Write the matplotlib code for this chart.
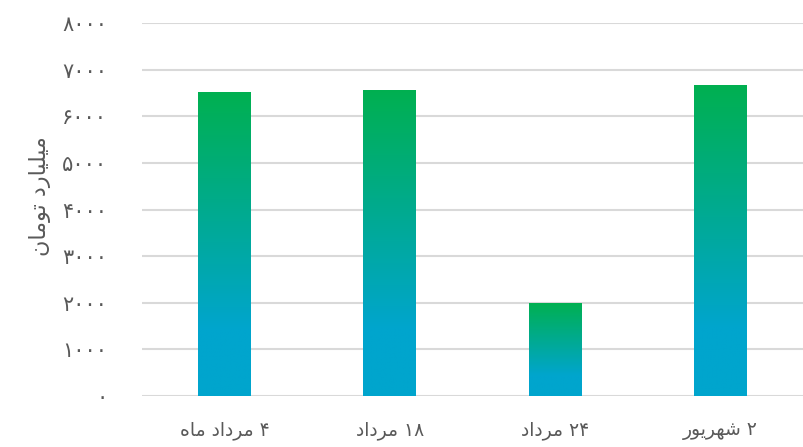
import numpy as np
import matplotlib
matplotlib.use("Agg")
import matplotlib.pyplot as plt

# ---- data ----
# Arabic/Persian text is pre-shaped (presentation forms) and in visual order,
# because matplotlib does no bidi/shaping.
def vis(*cps):
    return "".join(chr(c) if isinstance(c, int) else c for c in cps)

MORDAD = vis(0xFEA9, 0xFE8D, 0xFEA9, 0xFEAE, 0xFEE3)          # مرداد
MAH = vis(0xFEE9, 0xFE8E, 0xFEE3)                              # ماه
SHAHRIVAR = vis(0xFEAD, 0xFEEE, 0xFEF3, 0xFEAE, 0xFEEC, 0xFEB7)  # شهریور
TOMAN = vis(0xFEE5, 0xFE8E, 0xFEE3, 0xFEEE, 0xFE97)            # تومان
MILIARD = vis(0xFEA9, 0xFEAD, 0xFE8E, 0xFEF4, 0xFEE0, 0xFEF4, 0xFEE3)  # میلیارد

categories = [MAH + " " + MORDAD + " ۴",
              MORDAD + " ۱۸",
              MORDAD + " ۲۴",
              SHAHRIVAR + " ۲"]
values = [6530, 6570, 2000, 6680]
yticks = [0, 1000, 2000, 3000, 4000, 5000, 6000, 7000, 8000]
ytick_labels = ["۰", "۱۰۰۰", "۲۰۰۰", "۳۰۰۰", "۴۰۰۰", "۵۰۰۰", "۶۰۰۰", "۷۰۰۰", "۸۰۰۰"]
ylabel = TOMAN + " " + MILIARD

plt.rcParams['font.family'] = ['DejaVu Sans']

fig = plt.figure(figsize=(8.04, 4.47), dpi=100)
ax = fig.add_axes([0.1766, 0.114, 0.822, 0.8345])

x = np.arange(len(categories))
width = 0.32
bars = ax.bar(x, values, width=width, color='none', edgecolor='none', zorder=3)

green = np.array([0, 176, 80]) / 255
blue = np.array([0, 165, 205]) / 255
t = np.linspace(0, 1, 256)
m = np.clip(t / 0.78, 0, 1)
grad = (1 - m)[:, None] * green + m[:, None] * blue
grad_img = grad[:, None, :]

for b in bars:
    x0, y0 = b.get_x(), b.get_y()
    w, h = b.get_width(), b.get_height()
    im = ax.imshow(grad_img, extent=[x0, x0 + w, y0, y0 + h], origin='upper',
                   aspect='auto', zorder=3, interpolation='bilinear')
    im.set_clip_path(b)

ax.set_xlim(-0.5, len(categories) - 0.5)
ax.set_ylim(0, 8000)
ax.set_yticks(yticks)
ax.set_yticklabels(ytick_labels)
ax.set_xticks(x)
ax.set_xticklabels(categories)
ax.grid(axis='y', color='#D9D9D9', linewidth=1.5, zorder=0)
ax.set_axisbelow(True)
for s in ax.spines.values():
    s.set_visible(False)
ax.tick_params(axis='both', length=0, colors='#595959')
ax.tick_params(axis='y', pad=25, labelsize=15)
ax.tick_params(axis='x', pad=18, labelsize=13.5)
ax.set_ylabel(ylabel, fontsize=16, color='#595959')
ax.yaxis.set_label_coords(-0.137, 0.535)

fig.savefig("out.png", dpi=100)
